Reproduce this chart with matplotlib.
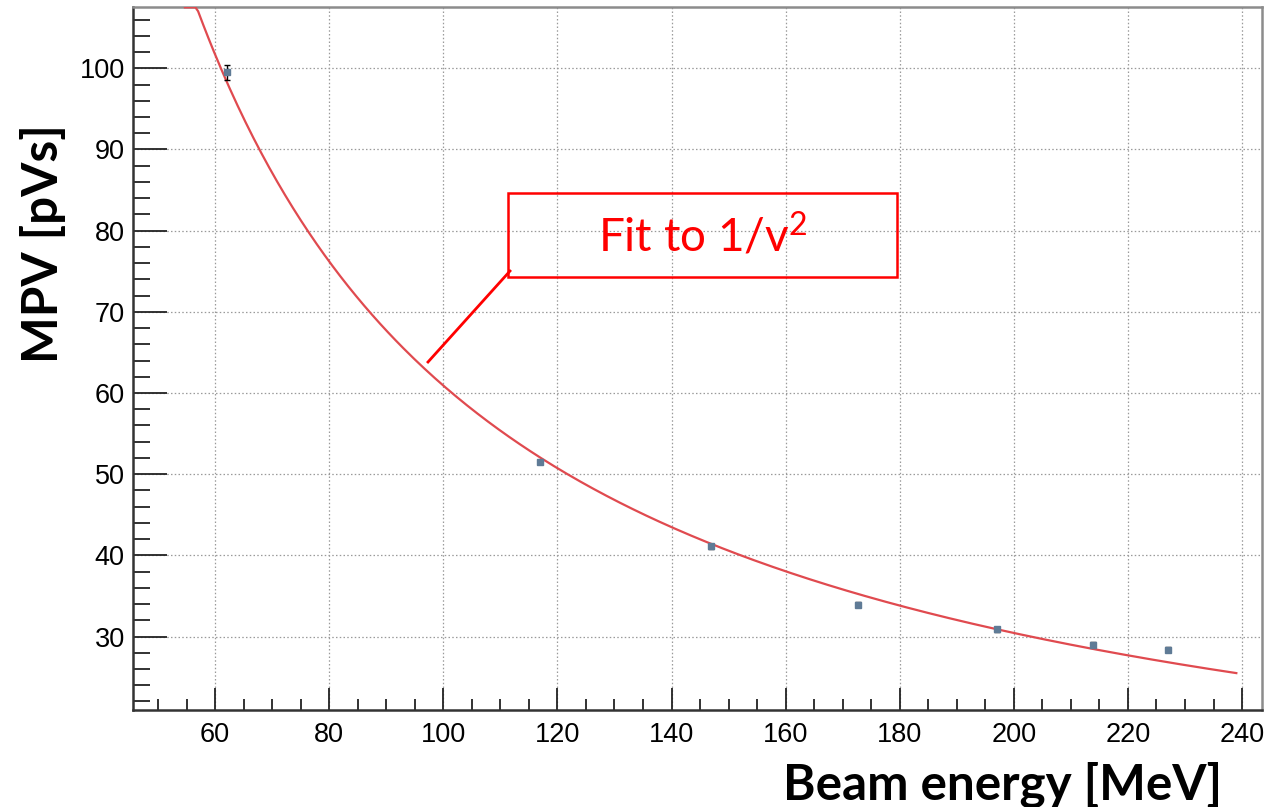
import numpy as np
import matplotlib
matplotlib.use("Agg")
import matplotlib.pyplot as plt
from matplotlib.patches import Rectangle
from matplotlib.lines import Line2D
from matplotlib.ticker import MultipleLocator

plt.rcParams["mathtext.fontset"] = "custom"
plt.rcParams["mathtext.rm"] = "Lato"
plt.rcParams["mathtext.it"] = "Lato:italic"
plt.rcParams["mathtext.bf"] = "Lato:bold"

# ---- data ----
beam_energy = [62.0, 117.0, 147.0, 172.7, 197.0, 213.9, 227.1]   # MeV
mpv = [99.5, 51.5, 41.1, 33.9, 30.9, 29.0, 28.4]                  # pVs
mpv_err = [0.9, 0.3, 0.3, 0.3, 0.3, 0.3, 0.3]

# fit: MPV = a / beta^2 + b  (proton, relativistic)
fit_a = 13.055
fit_b = -10.29
fit_range = (54.7, 239.0)
proton_mass = 938.27

x_ticks = [60, 80, 100, 120, 140, 160, 180, 200, 220, 240]
y_ticks = [30, 40, 50, 60, 70, 80, 90, 100]
x_lim = (45.6, 243.5)
y_lim = (20.95, 107.55)

W, H = 1286, 807
fig = plt.figure(figsize=(W / 100, H / 100), dpi=100)
ax = fig.add_axes([133 / W, 1 - 710 / H, (1262 - 133) / W, (710 - 7) / H])

ax.set_xlim(*x_lim)
ax.set_ylim(*y_lim)

# grid
ax.set_xticks(x_ticks)
ax.set_yticks(y_ticks)
ax.xaxis.set_minor_locator(MultipleLocator(5))
ax.yaxis.set_minor_locator(MultipleLocator(2))
ax.grid(True, which="major", color="#9a9a9a", linestyle=(0, (1.2, 1.8)), linewidth=0.9)
ax.set_axisbelow(True)

# fit curve
T = np.linspace(fit_range[0], fit_range[1], 400)
gamma = 1 + T / proton_mass
beta2 = 1 - 1 / gamma ** 2
fit_y = fit_a / beta2 + fit_b
ax.plot(T, np.minimum(fit_y, y_lim[1] - 0.05), color="#e04a4f", linewidth=1.6, zorder=3)

# data points
ax.errorbar(beam_energy, mpv, yerr=mpv_err, fmt="s", color="#5f7b96",
            markersize=4.8, ecolor="black", elinewidth=1.0, capsize=2.0,
            capthick=1.0, zorder=4)

# ticks
ax.tick_params(axis="both", which="both", direction="in", top=False, right=False,
               colors="#222222", width=1.3)
ax.tick_params(axis="x", which="major", length=15.8, pad=9)
ax.tick_params(axis="x", which="minor", length=7.9)
ax.tick_params(axis="y", which="major", length=24.5, pad=6)
ax.tick_params(axis="y", which="minor", length=12.2)
for lab in ax.get_xticklabels() + ax.get_yticklabels():
    lab.set_fontfamily("Liberation Sans")
    lab.set_fontsize(19.5)
    lab.set_color("black")

for s in ("left", "bottom"):
    ax.spines[s].set_color("#333333")
    ax.spines[s].set_linewidth(1.8)
for s in ("top", "right"):
    ax.spines[s].set_color("#8c8c8c")
    ax.spines[s].set_linewidth(1.8)

# axis titles
fig.text(1222 / W, 1 - 785 / H, "Beam energy [MeV]", ha="right", va="center",
         fontfamily="Lato", fontweight="bold", fontsize=35.6, color="black")
fig.text(43 / W, 1 - 244 / H, "MPV [pVs]", ha="center", va="center", rotation=90,
         fontfamily="Lato", fontweight="bold", fontsize=35.6, color="black")

# annotation box
box = Rectangle((508 / W, 1 - 277 / H), (897 - 508) / W, (277 - 193) / H,
                transform=fig.transFigure, fill=False, edgecolor="#ff0000",
                linewidth=1.8, zorder=5)
fig.patches.append(box)
fig.lines.append(Line2D([428 / W, 510 / W], [1 - 362 / H, 1 - 271 / H],
                        transform=fig.transFigure, color="#ff0000", linewidth=2.0))
fig.text(598 / W, 1 - 236 / H, r"Fit to 1/v$^{2}$", ha="left", va="center",
         fontfamily="Lato", fontsize=33, color="#ff0000")

fig.savefig("out.png", dpi=100)
